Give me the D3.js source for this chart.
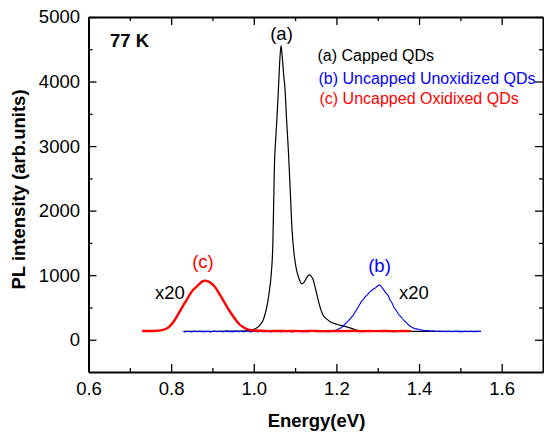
<!DOCTYPE html>
<html>
<head>
<meta charset="utf-8">
<script src="https://cdn.jsdelivr.net/npm/d3@7"></script>
<style>
  html, body { margin: 0; padding: 0; background: #fff; }
  svg { display: block; font-family: "Liberation Sans", Arial, Helvetica, sans-serif; }
</style>
</head>
<body>
<svg id="chart" width="544" height="434"></svg>
<script>
// PL spectra at 77 K: [energy (eV), intensity (arb. units)]
const cappedQDs = [
  [0.83,130],[0.90,130],[0.95,132],[0.98,138],[0.995,150],[1.005,175],[1.015,228],
  [1.022,295],[1.028,410],[1.034,590],[1.038,770],[1.042,1000],[1.046,1450],
  [1.048,2050],[1.050,2700],[1.053,3100],[1.056,3420],[1.060,3930],[1.063,4330],
  [1.066,4555],[1.069,4380],[1.072,4130],[1.0756,3880],[1.0795,3400],[1.084,2900],
  [1.088,2350],[1.0925,1720],[1.097,1360],[1.102,1130],[1.108,975],[1.1166,865],
  [1.121,885],[1.126,935],[1.131,990],[1.1343,1005],[1.138,990],[1.144,925],
  [1.148,825],[1.152,720],[1.157,585],[1.1625,462],[1.168,380],[1.1746,330],
  [1.185,280],[1.1987,243],[1.2228,202],[1.24,168],[1.2508,145],[1.27,135],
  [1.30,132],[1.40,130],[1.55,130]
];

const uncappedUnoxidized = [
  [0.830,128],[0.835,122],[0.840,131],[0.845,126],[0.850,119],[0.855,133],[0.860,127],
  [0.865,124],[0.870,135],[0.875,121],[0.880,129],[0.885,126],[0.890,132],[0.895,118],
  [0.900,127],[0.905,134],[0.910,123],[0.915,128],[0.920,131],[0.925,120],[0.930,127],
  [0.935,136],[0.940,124],[0.945,129],[0.950,122],[0.955,133],[0.960,127],[0.965,125],
  [0.970,131],[0.975,119],[0.980,128],[0.985,134],[0.990,125],[0.995,122],[1.000,130],
  [1.005,127],[1.010,121],[1.015,133],[1.020,126],[1.025,129],[1.030,124],[1.035,132],
  [1.040,120],[1.045,128],[1.050,135],[1.055,125],[1.060,129],[1.065,122],[1.070,131],
  [1.075,127],[1.080,124],[1.085,134],[1.090,126],[1.095,121],[1.100,130],[1.105,128],
  [1.110,137],[1.115,125],[1.120,131],[1.125,127],[1.130,122],[1.135,133],[1.140,140],
  [1.145,128],[1.150,126],[1.155,131],[1.160,124],[1.165,129],[1.170,133],[1.175,127],
  [1.180,131],[1.185,135],[1.190,138],[1.195,145],[1.200,152],[1.205,168],[1.210,182],
  [1.215,205],[1.220,236],[1.225,270],[1.230,300],[1.235,338],[1.240,372],[1.245,425],
  [1.250,478],[1.255,530],[1.260,590],[1.265,622],[1.270,668],[1.275,695],[1.280,738],
  [1.285,762],[1.290,790],[1.295,806],[1.300,835],[1.305,848],[1.310,812],[1.315,768],
  [1.320,722],[1.325,688],[1.330,612],[1.335,565],[1.340,492],[1.345,452],[1.350,398],
  [1.355,362],[1.360,325],[1.365,290],[1.370,262],[1.375,228],[1.380,205],[1.385,186],
  [1.390,172],[1.395,168],[1.400,158],[1.405,152],[1.410,147],[1.415,140],[1.420,144],
  [1.425,136],[1.430,133],[1.435,138],[1.440,130],[1.445,127],[1.450,134],[1.455,126],
  [1.460,131],[1.465,124],[1.470,129],[1.475,132],[1.480,123],[1.485,128],[1.490,133],
  [1.495,125],[1.500,129],[1.505,122],[1.510,131],[1.515,127],[1.520,124],[1.525,132],
  [1.530,126],[1.535,129],[1.540,123],[1.545,130],[1.550,127]
];

const uncappedOxidized = [
  [0.730,135],[0.750,135],[0.765,138],[0.775,145],[0.785,162],[0.795,200],[0.805,270],
  [0.813,352],[0.822,450],[0.830,540],[0.837,610],[0.845,700],[0.853,770],[0.861,817],
  [0.868,862],[0.875,900],[0.882,915],[0.889,905],[0.896,880],[0.903,840],[0.909,791],
  [0.916,720],[0.923,645],[0.933,533],[0.945,410],[0.957,300],[0.965,240],[0.973,200],
  [0.982,170],[0.990,152],[1.000,142],[1.020,138],[1.040,134],[1.060,137],[1.080,133],
  [1.100,136],[1.120,132],[1.140,137],[1.160,134],[1.180,131],[1.200,136],[1.220,133],
  [1.240,137],[1.260,132],[1.280,135],[1.300,133],[1.320,136],[1.340,132],[1.360,135],
  [1.380,133]
];

const xMajorTicks = [0.6, 0.8, 1.0, 1.2, 1.4, 1.6];
const xMinorTicks = [0.7, 0.9, 1.1, 1.3, 1.5];
const yMajorTicks = [0, 1000, 2000, 3000, 4000, 5000];
const yMinorTicks = [500, 1500, 2500, 3500, 4500];

const legendItems = ["(a) Capped QDs", "(b) Uncapped Unoxidized QDs", "(c) Uncapped Oxidixed QDs"];
const seriesColors = ["#000000", "#0000ff", "#ff0000"];

const svg = d3.select("#chart");
const plotLeft = 88.5, plotRight = 543, plotTop = 17, plotBottom = 372;

const x = d3.scaleLinear().domain([0.6, 1.7]).range([plotLeft, plotRight]);
const y = d3.scaleLinear().domain([-500, 5000]).range([plotBottom, plotTop]);

const tickFont = "18.5px";

// Axes with inward ticks on all four sides
function styleAxis(g) {
  g.selectAll(".domain").attr("stroke", "#000").attr("stroke-width", 2);
  g.selectAll(".tick line").attr("stroke", "#000").attr("stroke-width", 1.3);
  g.selectAll(".tick text").attr("fill", "#000").style("font-size", tickFont)
    .style("font-family", '"Liberation Sans", Arial, sans-serif');
}

function addAxis(axis, tx, ty, keepDomain) {
  const g = svg.append("g").attr("transform", `translate(${tx},${ty})`).call(axis).call(styleAxis);
  if (!keepDomain) g.select(".domain").remove();
  return g;
}

// bottom
addAxis(d3.axisBottom(x).tickValues(xMajorTicks).tickSizeInner(-8).tickSizeOuter(0)
  .tickPadding(10).tickFormat(d3.format(".1f")), 0, plotBottom, true);
addAxis(d3.axisBottom(x).tickValues(xMinorTicks).tickSizeInner(-4).tickSizeOuter(0).tickFormat(""), 0, plotBottom, false);
// top
addAxis(d3.axisTop(x).tickValues(xMajorTicks).tickSizeInner(-8).tickSizeOuter(0).tickFormat(""), 0, plotTop, true);
addAxis(d3.axisTop(x).tickValues(xMinorTicks).tickSizeInner(-4).tickSizeOuter(0).tickFormat(""), 0, plotTop, false);
// left
addAxis(d3.axisLeft(y).tickValues(yMajorTicks).tickSizeInner(-8).tickSizeOuter(0)
  .tickPadding(8.5).tickFormat(d3.format("d")), plotLeft, 0, true);
addAxis(d3.axisLeft(y).tickValues(yMinorTicks).tickSizeInner(-4).tickSizeOuter(0).tickFormat(""), plotLeft, 0, false);
// right
addAxis(d3.axisRight(y).tickValues(yMajorTicks).tickSizeInner(-8).tickSizeOuter(0).tickFormat(""), plotRight, 0, true);
addAxis(d3.axisRight(y).tickValues(yMinorTicks).tickSizeInner(-4).tickSizeOuter(0).tickFormat(""), plotRight, 0, false);

// Spectra
const line = d3.line().x(d => x(d[0])).y(d => y(d[1]));
const smoothLine = d3.line().x(d => x(d[0])).y(d => y(d[1])).curve(d3.curveMonotoneX);

const plot = svg.append("g");
plot.append("path").datum(cappedQDs)
  .attr("d", smoothLine).attr("fill", "none").attr("stroke", seriesColors[0]).attr("stroke-width", 1.2);
plot.append("path").datum(uncappedUnoxidized)
  .attr("d", line).attr("fill", "none").attr("stroke", seriesColors[1]).attr("stroke-width", 1.1);
plot.append("path").datum(uncappedOxidized)
  .attr("d", smoothLine).attr("fill", "none").attr("stroke", seriesColors[2]).attr("stroke-width", 2.4);

// Annotations
const ann = svg.append("g").style("font-size", "18.5px");
ann.append("text").attr("x", 281.5).attr("y", 39.5).attr("text-anchor", "middle").attr("fill", "#000").text("(a)");
ann.append("text").attr("x", 379.5).attr("y", 272).attr("text-anchor", "middle").attr("fill", "#0000ff").text("(b)");
ann.append("text").attr("x", 203).attr("y", 268).attr("text-anchor", "middle").attr("fill", "#ff0000").text("(c)");
ann.append("text").attr("x", 399).attr("y", 299).attr("fill", "#000").text("x20");
ann.append("text").attr("x", 155).attr("y", 298.5).attr("fill", "#000").text("x20");

svg.append("text").attr("x", 110).attr("y", 46.5).attr("fill", "#000")
  .style("font-size", "18.5px").style("font-weight", "bold").text("77 K");

// Legend
const legendX = [317.5, 318.5, 319.5];
const legendY = [61, 84, 104];
svg.append("g").selectAll("text").data(legendItems).join("text")
  .attr("x", (d, i) => legendX[i]).attr("y", (d, i) => legendY[i])
  .attr("fill", (d, i) => seriesColors[i]).style("font-size", "16px").text(d => d);

// Axis titles
svg.append("text").attr("x", 316.5).attr("y", 427).attr("text-anchor", "middle")
  .style("font-size", "18.5px").style("font-weight", "bold").text("Energy(eV)");
svg.append("text").attr("transform", "translate(25,189.5) rotate(-90)").attr("text-anchor", "middle")
  .style("font-size", "18.5px").style("font-weight", "bold").text("PL intensity (arb.units)");
</script>
</body>
</html>
